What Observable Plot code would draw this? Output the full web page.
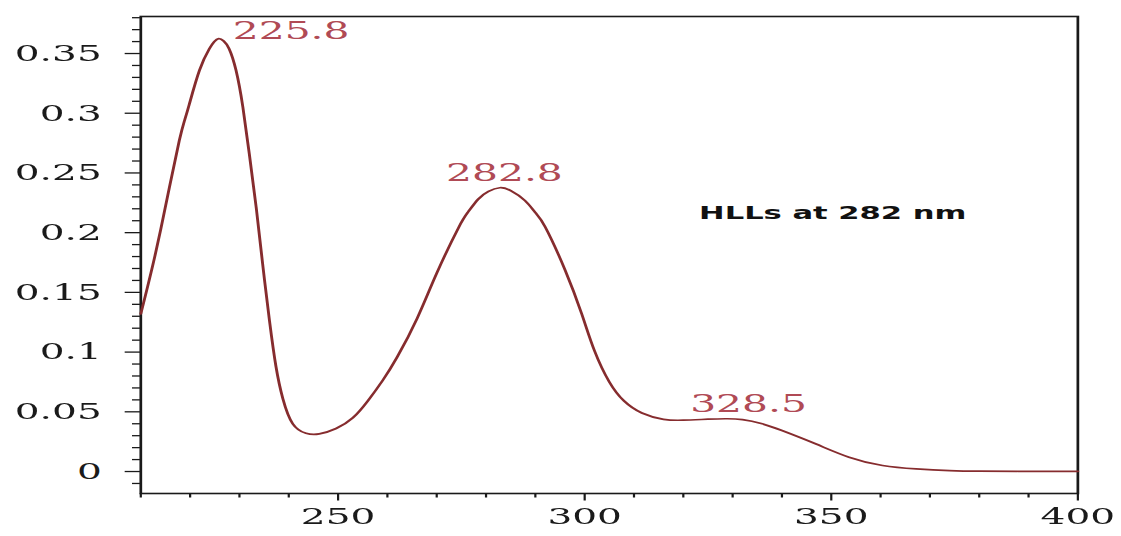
<!DOCTYPE html>
<html>
<head>
<meta charset="utf-8">
<script src="https://cdn.jsdelivr.net/npm/d3@7"></script>
<script src="https://cdn.jsdelivr.net/npm/@observablehq/plot@0.6"></script>
<style>
  html, body { margin: 0; padding: 0; background: #fff; overflow: hidden; }
  #wrap { width: 660px; height: 536px; transform: scaleX(1.6985); transform-origin: 0 0; }
</style>
</head>
<body>
<div id="wrap"></div>
<script>
// Absorbance spectrum (wavelength in nm)
const wavelength = [210, 213, 215.8, 217.8, 218.8, 219.8, 221.9, 223.9, 224.9, 225.8, 226.8, 227.9, 229.3, 230.7, 232, 233.4, 234.7, 236.1, 237.4, 238.8, 240.8, 243.5, 246.2, 249.6, 253, 256, 259, 262, 266, 270, 274.4, 276.4, 278.4, 280.5, 282.8, 285, 287.9, 290, 292, 296, 299.4, 302, 305, 308, 311.6, 316, 320, 325, 328.5, 332, 336, 340, 346.8, 353.6, 360.4, 367.2, 374, 380, 390, 400];
const absorbance = [0.132, 0.183, 0.238, 0.277, 0.293, 0.307, 0.336, 0.354, 0.360, 0.3625, 0.3605, 0.354, 0.336, 0.305, 0.266, 0.221, 0.174, 0.126, 0.088, 0.061, 0.040, 0.032, 0.0315, 0.036, 0.045, 0.059, 0.076, 0.096, 0.128, 0.166, 0.204, 0.2175, 0.228, 0.2346, 0.2376, 0.2352, 0.2268, 0.2168, 0.2048, 0.169, 0.132, 0.101, 0.075, 0.059, 0.049, 0.0437, 0.043, 0.0438, 0.0442, 0.0435, 0.040, 0.0343, 0.0232, 0.012, 0.005, 0.0022, 0.0008, 0.0003, 0.0002, 0.0002];

// Peak labels
const peakWavelengths = [225.8, 282.8, 328.5];
const peakValues = [0.3625, 0.2376, 0.0442];
const peakLabels = ["225.8", "282.8", "328.5"];

// Annotation
const noteText = ["HLLs at 282 nm"];
const noteX = [323.2];
const noteY = [0.216];

// Tick labels
const xTicks = [250, 300, 350, 400];
const xTickLabels = ["250", "300", "350", "400"];
const yTicks = [0, 0.05, 0.1, 0.15, 0.2, 0.25, 0.3, 0.35];
const yTickLabels = ["0", "0.05", "0.1", "0.15", "0.2", "0.25", "0.3", "0.35"];

const spectrum = wavelength.map((w, i) => ({w, a: absorbance[i]}));
const peaks = peakWavelengths.map((w, i) => ({w, a: peakValues[i], label: peakLabels[i]}));
const note = noteText.map((t, i) => ({t, x: noteX[i], y: noteY[i]}));
const xLab = new Map(xTicks.map((v, i) => [v, xTickLabels[i]]));
const yLab = new Map(yTicks.map((v, i) => [v, yTickLabels[i]]));
const xMinor = d3.range(210, 401, 10).filter(v => !xTicks.includes(v));
const yMinor = d3.range(-1, 39).map(k => k / 100).filter(v => !yTicks.some(t => Math.abs(t - v) < 1e-9));

const ink = "#1a1a1a";
const lineColor = "#862c2e";
const labelColor = "#b04a55";
const labelOffsets = [{dx: 8.3, dy: -7, anchor: "start"}, {dx: 2.7, dy: -14, anchor: "middle"}, {dx: 13.7, dy: -14, anchor: "middle"}];

const chart = Plot.plot({
  width: 660,
  height: 536,
  marginLeft: 82.4,
  marginRight: 25.9,
  marginTop: 16,
  marginBottom: 43,
  x: {domain: [210, 400]},
  y: {domain: [-0.0184, 0.381]},
  style: {fontFamily: "DejaVu Serif", fontSize: "23px", color: ink, background: "white", overflow: "visible"},
  marks: [
    Plot.axisY(yMinor, {tickSize: 4.7, tickFormat: () => "", stroke: ink, strokeWidth: 1.3}),
    Plot.axisY(yTicks, {tickSize: 9, tickPadding: 14, tickFormat: d => yLab.get(d), stroke: ink, strokeWidth: 1.3, fill: ink}),
    Plot.axisX(xMinor, {tickSize: 4.5, tickFormat: () => "", stroke: ink, strokeWidth: 1.3}),
    Plot.axisX(xTicks, {tickSize: 7.5, tickPadding: 7, tickFormat: d => xLab.get(d), stroke: ink, strokeWidth: 1.3, fill: ink}),
    Plot.frame({stroke: ink, strokeWidth: 1.6}),
    Plot.line(spectrum, {x: "w", y: "a", stroke: lineColor, strokeWidth: 1.7, curve: "natural"}),
    ...peaks.map((p, i) => Plot.text([p], {
      x: "w", y: "a", text: "label",
      dx: labelOffsets[i].dx, dy: labelOffsets[i].dy,
      textAnchor: labelOffsets[i].anchor, lineAnchor: "middle",
      fill: labelColor, fontSize: 24, fontFamily: "DejaVu Serif"
    })),
    Plot.text(note, {x: "x", y: "y", text: "t", textAnchor: "start", lineAnchor: "middle",
      fill: "#111", fontSize: 18, fontWeight: "bold", fontFamily: "DejaVu Sans"})
  ]
});
document.getElementById("wrap").appendChild(chart);
</script>
</body>
</html>
